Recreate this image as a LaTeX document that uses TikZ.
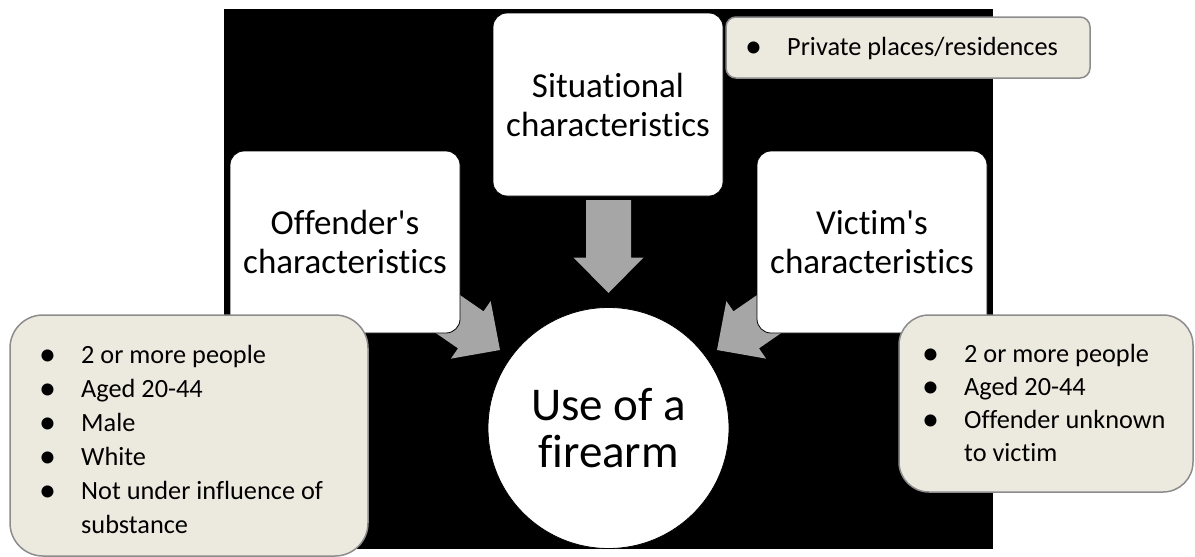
\documentclass[tikz,border=0pt]{standalone}
\usepackage{fontspec}
\setmainfont{Carlito}[Ligatures={TeXOff,NoCommon}]
\definecolor{calloutfill}{HTML}{ECEADF}
\definecolor{calloutedge}{HTML}{8C8C8C}
\definecolor{arrowfill}{HTML}{A6A6A6}
% bullet hung to the left of a list line
\newcommand\listbullet{\llap{\raisebox{-2pt}{\makebox[0pt]{\fontsize{34}{34}\selectfont\textbullet}}\hspace{33.5pt}}}
% block arrow with its tip at the origin, pointing along +x; #1 = total length
\tikzset{
  pics/blockarrow/.style={code={
    \fill[arrowfill] (-#1,-22.5) -- (-35.5,-22.5) -- (-35.5,-35) -- (0,0)
      -- (-35.5,35) -- (-35.5,22.5) -- (-#1,22.5) -- cycle;}}
}
\begin{document}
\begin{tikzpicture}[x=1pt,y=-1pt,
  factor/.style={rectangle, rounded corners=14pt, fill=white, draw=black,
    line width=0.8pt, minimum width=230pt, minimum height=182pt,
    align=center, inner sep=0pt, font=\fontsize{35}{39}\selectfont},
  outcome/.style={circle, fill=white, draw=black, line width=0.8pt,
    minimum size=241pt, align=center, inner sep=0pt,
    font=\fontsize{47}{47}\selectfont},
  callout/.style={rectangle, fill=calloutfill, draw=calloutedge,
    line width=1.5pt, inner sep=0pt},
  listtext/.style={anchor=base west, inner sep=0pt,
    font=\fontsize{26.3}{34}\selectfont}
]
\useasboundingbox (0,0) rectangle (1195,557);
\fill[white] (0,0) rectangle (1195,557);
% dark backdrop
\fill[black] (224,9) rectangle (993,549);

% block arrows pointing at the outcome
\pic[rotate=-90] at (608.5,293) {blockarrow=93};
\pic[rotate=-34.6] at (500,350) {blockarrow=130};
\pic[rotate=-145.4] at (717,350) {blockarrow=130};

% factor boxes and outcome
\node[factor] (offender) at (345,242) {Offender's\\characteristics};
\node[factor, minimum height=183pt] (situation) at (608,104.5) {Situational\\characteristics};
\node[factor] (victim) at (872,242) {Victim's\\characteristics};
\node[outcome] (firearm) at (608.5,428) {Use of a\\firearm};

% situational callout
\node[callout, rounded corners=10pt, minimum width=364pt, minimum height=61pt] (sitbox) at (908,47.5) {};
\node[listtext] (sittext) at (787,55) {\listbullet Private places/residences};

% offender callout
\node[callout, rounded corners=33pt, minimum width=358pt, minimum height=241pt] (offbox) at (189,435.5) {};
\node[listtext] (offtext) at (81,363) {\begin{tabular}[t]{@{}l@{}}
\listbullet 2 or more people\\
\listbullet Aged 20-44\\
\listbullet Male\\
\listbullet White\\
\listbullet Not under influence of\\
substance
\end{tabular}};

% victim callout
\node[callout, rounded corners=30pt, minimum width=294pt, minimum height=177pt] (vicbox) at (1046,403.5) {};
\node[listtext, font=\fontsize{26.3}{33}\selectfont] (victext) at (964,362) {\begin{tabular}[t]{@{}l@{}}
\listbullet 2 or more people\\
\listbullet Aged 20-44\\
\listbullet Offender unknown\\
to victim
\end{tabular}};
\end{tikzpicture}
\end{document}
